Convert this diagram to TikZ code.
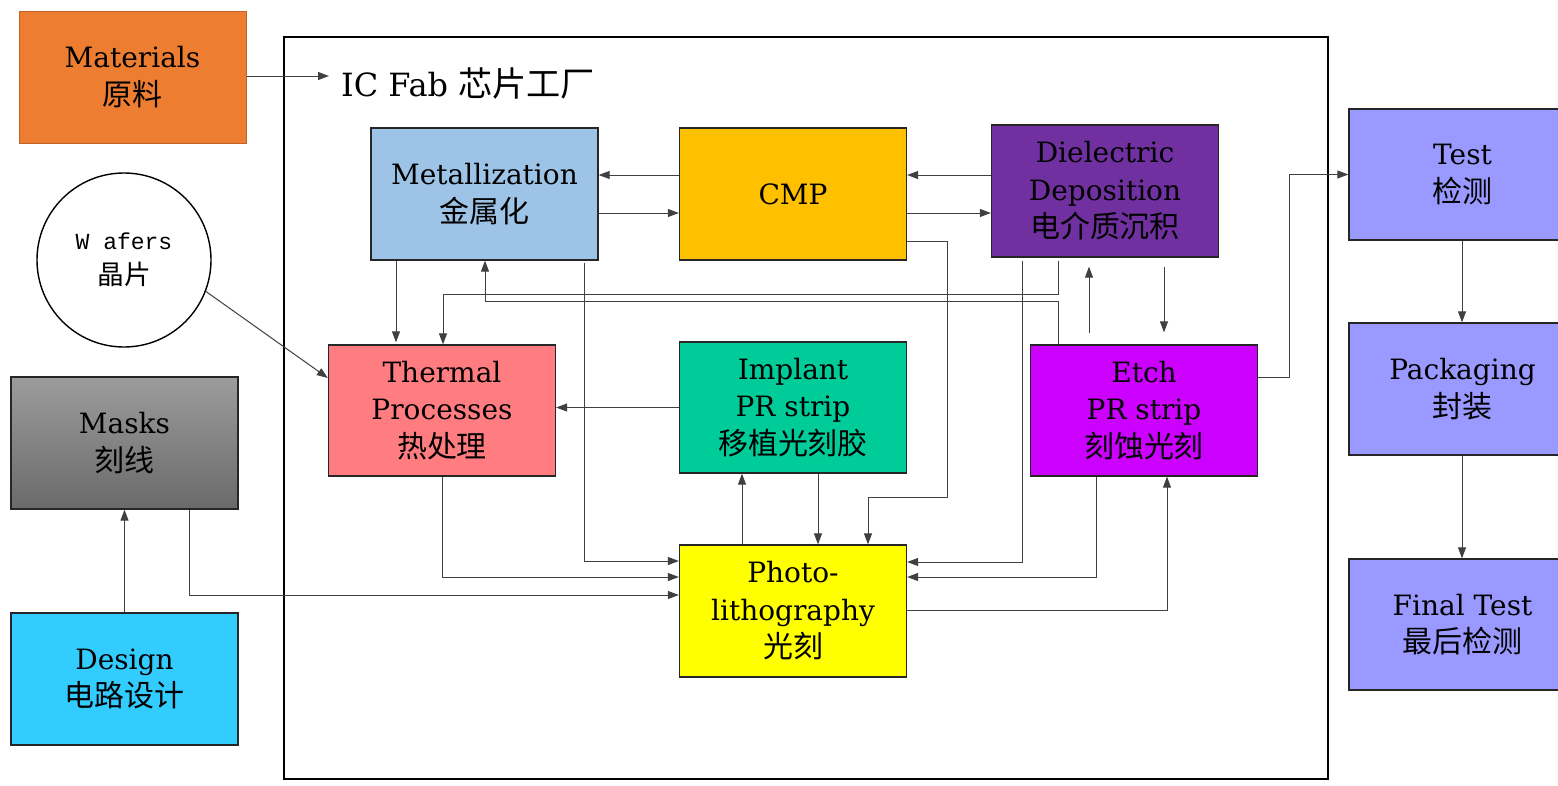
\documentclass[tikz,border=0pt]{standalone}
\usepackage{fontspec}
\setmainfont{DejaVu Serif}
\newfontfamily\cjk{Noto Sans CJK SC}[Scale=1.07]
\newfontfamily\wafont{Liberation Mono}
\usetikzlibrary{arrows.meta}
\definecolor{cmat}{HTML}{ED7D31}
\definecolor{cmatb}{HTML}{C0622A}
\definecolor{cmet}{HTML}{9DC3E6}
\definecolor{ccmp}{HTML}{FFC000}
\definecolor{cdiel}{HTML}{7030A0}
\definecolor{ctherm}{HTML}{FF7C80}
\definecolor{cimpl}{HTML}{00CC99}
\definecolor{cetch}{HTML}{CC00FF}
\definecolor{cphoto}{HTML}{FFFF00}
\definecolor{ctest}{HTML}{9999FF}
\definecolor{cdesign}{HTML}{33CCFF}
\definecolor{cmasktop}{HTML}{9C9C9C}
\definecolor{cmaskbot}{HTML}{6A6A6A}
\definecolor{cline}{HTML}{404040}
\tikzset{
  box/.style={draw=black!85, line width=1.3pt, minimum width=227pt, minimum height=132pt,
    inner sep=0pt, align=center, font=\fontsize{28}{37.5}\selectfont},
  arr/.style={draw=cline, line width=1pt, -{Triangle[length=11pt,width=8pt]}},
}
\begin{document}
\begin{tikzpicture}[x=1pt,y=-1pt]
\path[use as bounding box, clip] (0,0) rectangle (1558,785);
\fill[white] (0,0) rectangle (1558,785);

% IC Fab frame
\node[draw=black, line width=1.5pt, minimum width=1044pt, minimum height=742pt, inner sep=0pt] (fab) at (806,408) {};
\node[anchor=west, inner sep=0pt, font=\fontsize{32}{37}\selectfont] (fablabel) at (341,84) {IC Fab {\cjk 芯片工厂}};
\coordinate (fabin) at (329,76);

% outside boxes
\node[box, fill=cmat, draw=cmatb, line width=1pt] (mat) at (132.5,77) {Materials\\{\cjk 原料}};
\node[draw=black, line width=1.4pt, circle, minimum size=174pt, inner sep=0pt, align=center,
  font=\fontsize{23}{35}\selectfont] (waf) at (124,260)
  {{\wafont W afers}\\{\cjk\fontsize{25}{35}\selectfont 晶片}};
\node[box, top color=cmasktop, bottom color=cmaskbot] (masks) at (124.5,443) {Masks\\{\cjk 刻线}};
\node[box, fill=cdesign] (design) at (124.5,679) {Design\\{\cjk 电路设计}};

% fab boxes
\node[box, fill=cmet] (met) at (484.5,194) {Metallization\\{\cjk 金属化}};
\node[box, fill=ccmp] (cmp) at (793,194) {CMP};
\node[box, fill=cdiel] (diel) at (1105,191) {Dielectric\\Deposition\\{\cjk 电介质沉积}};
\node[box, fill=ctherm, minimum height=131pt] (therm) at (442,410.5) {Thermal\\Processes\\{\cjk 热处理}};
\node[box, fill=cimpl, minimum height=131pt] (impl) at (793,407.5) {Implant\\PR strip\\{\cjk 移植光刻胶}};
\node[box, fill=cetch, minimum height=131pt] (etch) at (1144,410.5) {Etch\\PR strip\\{\cjk 刻蚀光刻}};
\node[box, fill=cphoto] (photo) at (793,611) {Photo-\\lithography\\{\cjk 光刻}};

% right column
\node[box, fill=ctest, minimum height=131pt] (test) at (1462.5,174.5) {Test\\{\cjk 检测}};
\node[box, fill=ctest] (pack) at (1462.5,389) {Packaging\\{\cjk 封装}};
\node[box, fill=ctest, minimum height=131pt] (final) at (1462.5,624.5) {Final Test\\{\cjk 最后检测}};

% connectors
\draw[arr] (mat.east |- 0,76) -- (fabin);
\draw[arr] (waf.-21) -- (therm.west |- 0,378);
\draw[arr] (design.north) -- (masks.south);
\draw[arr] (masks.south -| 189,0) |- (photo.west |- 0,595);

\draw[arr] (cmp.west |- 0,175) -- (met.east |- 0,175);
\draw[arr] (met.east |- 0,213) -- (cmp.west |- 0,213);
\draw[arr] (diel.west |- 0,175) -- (cmp.east |- 0,175);
\draw[arr] (cmp.east |- 0,213) -- (diel.west |- 0,213);
\draw[arr] (cmp.east |- 0,241) -| (947,497) -| (photo.north -| 868,0);

\draw[arr, shorten >=2pt] (met.south -| 396,0) -- (therm.north -| 396,0);
\draw[arr, shorten <=3pt] (diel.south -| 1058,0) -- (1058,294) -| (therm.north -| 443,0);
\draw[arr] (etch.north -| 1058,0) -- (1058,301) -| (met.south -| 485,0);
\draw[arr, shorten <=11pt, shorten >=9pt] (etch.north -| 1089,0) -- (diel.south -| 1089,0);
\draw[arr, shorten <=9pt, shorten >=12pt] (diel.south -| 1164,0) -- (etch.north -| 1164,0);

\draw[arr, shorten <=2pt] (met.south -| 584,0) |- (photo.west |- 0,561);
\draw[arr] (therm.south) |- (photo.west |- 0,577);
\draw[arr] (impl.west) -- (therm.east |- impl.west);
\draw[arr] (photo.north -| 742,0) -- (impl.south -| 742,0);
\draw[arr] (impl.south -| 818,0) -- (photo.north -| 818,0);

\draw[arr, shorten <=3pt] (diel.south -| 1022,0) |- (photo.east |- 0,562);
\draw[arr] (etch.south -| 1096,0) |- (photo.east |- 0,577);
\draw[arr] (photo.east |- 0,610) -| (etch.south -| 1167,0);
\draw[arr] (etch.east |- 0,377) -- (1289,377) |- (test.west);
\draw[arr] (test.south -| 1462,0) -- (pack.north -| 1462,0);
\draw[arr] (pack.south -| 1462,0) -- (final.north -| 1462,0);
\end{tikzpicture}
\end{document}
